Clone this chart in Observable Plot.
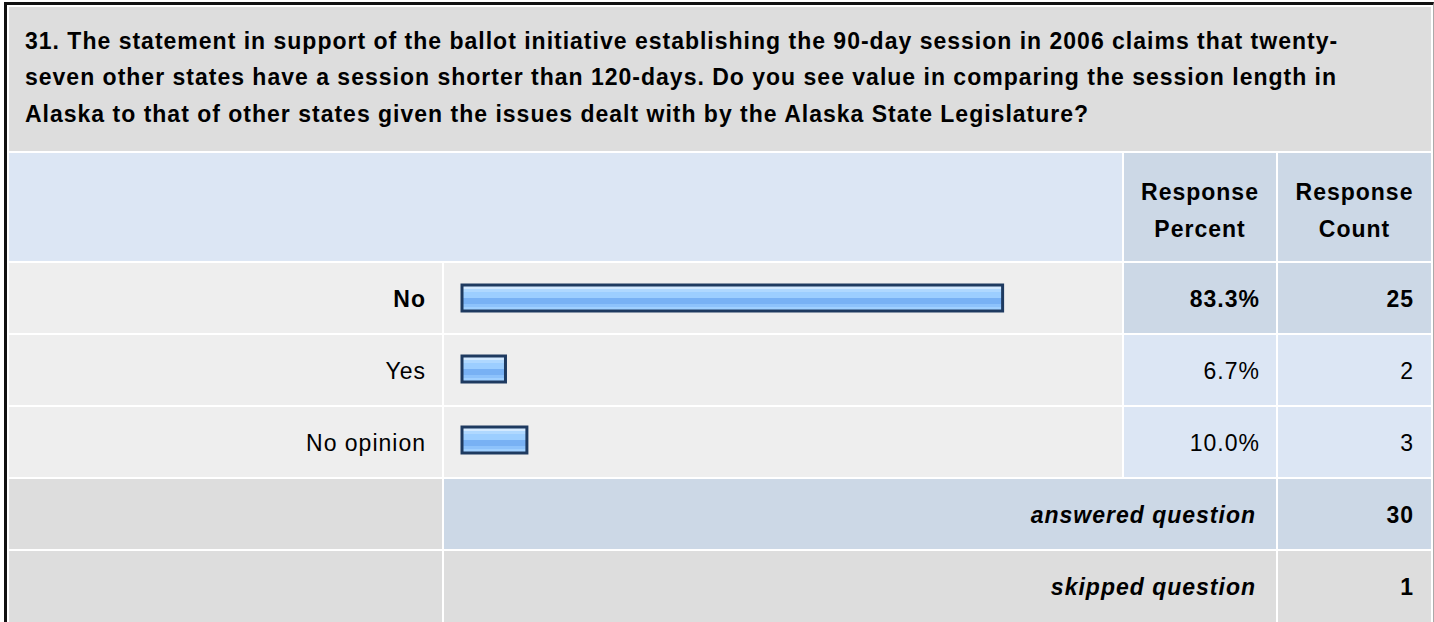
<!DOCTYPE html>
<html>
<head>
<meta charset="utf-8">
<script src="https://cdn.jsdelivr.net/npm/d3@7"></script>
<script src="https://cdn.jsdelivr.net/npm/@observablehq/plot@0.6"></script>
<style>
  html, body { margin: 0; padding: 0; background: #fff; overflow: hidden; width: 1434px; height: 622px; }
  body { position: relative; font-family: "Liberation Sans", Arial, Helvetica, sans-serif; font-size: 23px; letter-spacing: 1px; color: #000; }
  .cell { position: absolute; box-sizing: border-box; white-space: nowrap; overflow: hidden; z-index: 1; }
  #frame { position: absolute; left: 4px; top: 2px; width: 1430px; height: 640px; border-left: 3px solid #111; border-top: 3px solid #111; border-right: 1px solid #aaa; box-sizing: border-box; }
  #plotwrap { position: absolute; left: 444px; top: 263px; width: 678px; height: 214px; z-index: 5; }
  #plotwrap svg { display: block; background: transparent; }
</style>
</head>
<body>
<div id="frame"></div>
<div id="plotwrap"></div>
<script>
// ---- data ----
const questionLines = [
  "31. The statement in support of the ballot initiative establishing the 90-day session in 2006 claims that twenty-",
  "seven other states have a session shorter than 120-days. Do you see value in comparing the session length in",
  "Alaska to that of other states given the issues dealt with by the Alaska State Legislature?"
];
const columnHeaders = [["Response", "Percent"], ["Response", "Count"]];
const categories = ["No", "Yes", "No opinion"];
const percents = [83.3, 6.7, 10.0];
const counts = [25, 2, 3];
const summaryLabels = ["answered question", "skipped question"];
const summaryCounts = [30, 1];

// ---- layout helpers ----
const COL = { x0: 9, labelR: 442, barL: 444, barR: 1122, pctL: 1124, pctR: 1276, cntL: 1278, cntR: 1432 };
const ROW_TOPS = [263, 335, 407, 479, 551];
const ROW_H = 70;
const C = { title: "#DDDDDD", hdrLight: "#DCE6F4", hdrDark: "#CCD8E6", rowBg: "#EEEEEE", gray: "#DDDDDD" };

function cell(x1, x2, y1, y2, bg, html, o = {}) {
  const d = document.createElement("div");
  d.className = "cell";
  Object.assign(d.style, {
    left: x1 + "px", top: y1 + "px", width: (x2 - x1) + "px", height: (y2 - y1) + "px",
    background: bg, textAlign: o.align || "left",
    paddingLeft: (o.padL || 0) + "px", paddingRight: (o.padR || 0) + "px", paddingTop: (o.padT || 0) + "px",
    lineHeight: (o.lh || 66) + "px",
    fontWeight: o.bold ? "bold" : "normal", fontStyle: o.italic ? "italic" : "normal"
  });
  if (html != null) d.innerHTML = html;
  document.body.appendChild(d);
  return d;
}

// title
cell(COL.x0, COL.cntR - 1, 7, 151, C.title, questionLines.map(l => `<div>${l}</div>`).join(""),
  { padL: 16, padT: 15.5, lh: 36.5, bold: true });

// header
cell(COL.x0, COL.barR, 153, 261, C.hdrLight, null);
cell(COL.pctL, COL.pctR, 153, 261, C.hdrDark, columnHeaders[0].join("<br>"), { align: "center", bold: true, lh: 37, padT: 21 });
cell(COL.cntL, COL.cntR - 1, 153, 261, C.hdrDark, columnHeaders[1].join("<br>"), { align: "center", bold: true, lh: 37, padT: 21 });

// data rows
const maxIdx = percents.indexOf(Math.max(...percents));
categories.forEach((cat, i) => {
  const y1 = ROW_TOPS[i], y2 = y1 + ROW_H, b = i === maxIdx;
  const dark = b ? C.hdrDark : C.hdrLight;
  cell(COL.x0, COL.labelR, y1, y2, C.rowBg, cat, { align: "right", padR: 16, padT: 3, bold: b });
  cell(COL.barL, COL.barR, y1, y2, C.rowBg, null);
  cell(COL.pctL, COL.pctR, y1, y2, dark, percents[i].toFixed(1) + "%", { align: "right", padR: 16, padT: 3, bold: b });
  cell(COL.cntL, COL.cntR - 1, y1, y2, dark, String(counts[i]), { align: "right", padR: 17, padT: 3, bold: b });
});

// summary rows
summaryLabels.forEach((lab, j) => {
  const y1 = ROW_TOPS[3 + j], y2 = y1 + ROW_H + (j === 1 ? 4 : 0);
  const bg = j === 0 ? C.hdrDark : C.gray;
  cell(COL.x0, COL.labelR, y1, y2, C.gray, null);
  cell(COL.barL, COL.pctR, y1, y2, bg, lab, { align: "right", padR: 20, padT: 3, bold: true, italic: true });
  cell(COL.cntL, COL.cntR - 1, y1, y2, bg, String(summaryCounts[j]), { align: "right", padR: 17, padT: 3, bold: true });
});

// bars with Observable Plot
const rows = categories.map((c, i) => ({ category: c, percent: percents[i] }));
const chart = Plot.plot({
  width: 678, height: 214,
  marginTop: 0, marginRight: 0, marginBottom: 0, marginLeft: 0,
  style: { background: "transparent", overflow: "visible" },
  x: { domain: [0, 100], range: [18, 667], axis: null },
  y: { domain: categories, range: [0, 214], padding: 0, axis: null },
  marks: [
    Plot.barX(rows, {
      x: "percent", y: "category",
      fill: "url(#barGrad)", stroke: "#1e3a60", strokeWidth: 3,
      insetTop: 21, insetBottom: 24
    })
  ]
});
const NS = "http://www.w3.org/2000/svg";
const defs = document.createElementNS(NS, "defs");
defs.innerHTML = `<linearGradient id="barGrad" x1="0" y1="0" x2="0" y2="1">
  <stop offset="0" stop-color="#D2E9FF"/><stop offset="0.16" stop-color="#D2E9FF"/>
  <stop offset="0.16" stop-color="#AFD8FF"/><stop offset="0.285" stop-color="#AFD8FF"/>
  <stop offset="0.285" stop-color="#9CCEFF"/><stop offset="0.51" stop-color="#9CCEFF"/>
  <stop offset="0.51" stop-color="#78B1F4"/><stop offset="0.73" stop-color="#78B1F4"/>
  <stop offset="0.73" stop-color="#8DC2FB"/><stop offset="0.85" stop-color="#8DC2FB"/>
  <stop offset="0.85" stop-color="#A0D0FF"/><stop offset="1" stop-color="#A0D0FF"/>
</linearGradient>`;
chart.insertBefore(defs, chart.firstChild);
document.getElementById("plotwrap").appendChild(chart);
</script>
</body>
</html>
